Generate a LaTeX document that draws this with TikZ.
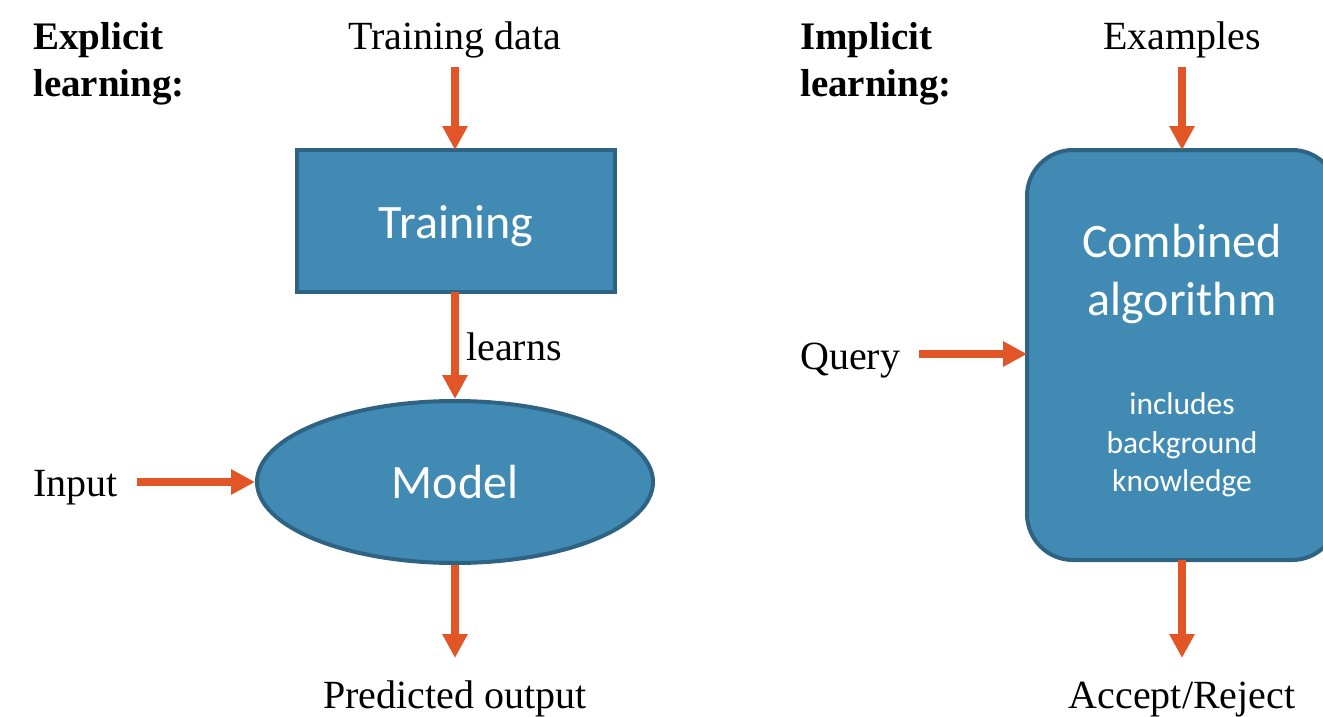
\documentclass[tikz,border=0pt]{standalone}
\usepackage{fontspec}
\setmainfont{Liberation Serif}
\newfontfamily\boxfont{Carlito}
\usetikzlibrary{arrows.meta,shapes.geometric}
\definecolor{boxfill}{HTML}{418AB3}
\definecolor{boxedge}{HTML}{2E6384}
\definecolor{flow}{HTML}{E25526}
\tikzset{
  lbl/.style={inner sep=0pt, anchor=base, font=\fontsize{40}{46}\selectfont},
  head/.style={inner sep=0pt, anchor=base west, font=\fontsize{39}{46}\selectfont\bfseries},
  inbox/.style={inner sep=0pt, anchor=base, text=white, font=\boxfont\fontsize{48}{56}\selectfont},
  insmall/.style={inner sep=0pt, anchor=base, text=white, font=\boxfont\fontsize{31.5}{38}\selectfont},
  block/.style={draw=boxedge, fill=boxfill, line width=4pt},
  flowarrow/.style={draw=flow, line width=8pt, -{Triangle[width=24pt,length=24pt]}},
}
\begin{document}
\begin{tikzpicture}[x=1pt,y=-1pt]
\useasboundingbox (0,0) rectangle (1323,717);

% ---------- explicit learning ----------
\node[head] (hexp1) at (33,50) {Explicit};
\node[head] (hexp2) at (33,96) {learning:};
\node[lbl] (tdata) at (455,50) {Training data};
\coordinate (tdataend) at (455,67);

\draw[block] (297,150) rectangle (615,292);
\coordinate (trainN) at (455,150);
\coordinate (trainS) at (455,292);
\node[inbox] (traintxt) at (456,238) {Training};

\node[block, ellipse, minimum width=396pt, minimum height=162pt, inner sep=0pt] (model) at (455,482) {};
\node[inbox] (modeltxt) at (455,498) {Model};

\node[lbl] (learns) at (514,360) {learns};
\node[lbl, anchor=base west] (input) at (33,496) {Input};
\coordinate (inputend) at (137,482);
\node[lbl] (pred) at (455,708) {Predicted output};
\coordinate (predend) at (455,658);

\draw[flowarrow] (tdataend) -- (trainN);
\draw[flowarrow] (trainS) -- (model.north);
\draw[flowarrow] (inputend) -- (model.west);
\draw[flowarrow] (model.south) -- (predend);

% ---------- implicit learning ----------
\node[head] (himp1) at (800,50) {Implicit};
\node[head] (himp2) at (800,96) {learning:};
\node[lbl] (examples) at (1182,50) {Examples};
\coordinate (examplesend) at (1182,67);

\draw[block, rounded corners=46pt] (1027,150) rectangle (1338,560);
\coordinate (algoN) at (1182,150);
\coordinate (algoS) at (1182,560);
\coordinate (algoW) at (1027,354);
\node[inbox] (comb1) at (1182,257) {Combined};
\node[inbox] (comb2) at (1182,315) {algorithm};
\node[insmall] (bg1) at (1182,414) {includes};
\node[insmall] (bg2) at (1182,453) {background};
\node[insmall] (bg3) at (1182,491) {knowledge};

\node[lbl, anchor=base west] (query) at (800,369) {Query};
\coordinate (queryend) at (919,354);
\node[lbl] (accept) at (1182,708) {Accept/Reject};
\coordinate (acceptend) at (1182,658);

\draw[flowarrow] (examplesend) -- (algoN);
\draw[flowarrow] (queryend) -- (algoW);
\draw[flowarrow] (algoS) -- (acceptend);
\end{tikzpicture}
\end{document}
